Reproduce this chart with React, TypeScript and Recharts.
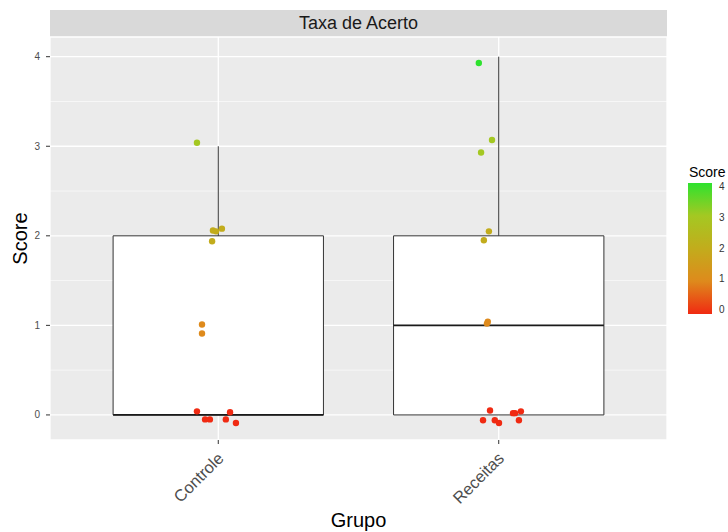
import React from "react";
import {
  ComposedChart,
  Scatter,
  XAxis,
  YAxis,
  CartesianGrid,
  ReferenceArea,
  ReferenceLine,
} from "recharts";

// groups and box summaries
const groups = ["Controle", "Receitas"];
const groupPos = [1, 2];
const boxLower = [0, 0];
const boxMedian = [0, 1];
const boxUpper = [2, 2];
const whiskerTop = [3, 4];

// jittered points (x in group units, y = score)
const pointsX = [
  0.924, 0.981, 0.992, 1.013, 0.978, 0.942, 0.942, 0.924, 0.953, 0.97, 1.042, 1.027, 1.063,
  1.929, 1.976, 1.937, 1.965, 1.947, 1.961, 1.958, 1.969, 1.944, 1.986, 2.001, 2.051, 2.058, 2.079, 2.072,
];
const pointsY = [
  3.04, 2.06, 2.05, 2.08, 1.94, 1.01, 0.91, 0.04, -0.05, -0.05, 0.03, -0.05, -0.09,
  3.93, 3.07, 2.93, 2.05, 1.95, 1.04, 1.02, 0.05, -0.06, -0.06, -0.09, 0.02, 0.02, 0.04, -0.06,
];
const pointsScore = [
  3, 2, 2, 2, 2, 1, 1, 0, 0, 0, 0, 0, 0,
  4, 3, 3, 2, 2, 1, 1, 0, 0, 0, 0, 0, 0, 0, 0,
];

const yTicks = [0, 1, 2, 3, 4];
const yMinor = [0.5, 1.5, 2.5, 3.5];
const legendTicks = [4, 3, 2, 1, 0];

// colour scale Score 0..4
const scaleColors = ["#f02a12", "#de8a1c", "#c2ac1c", "#a4c822", "#2ee22e"];

const points = pointsX.map((x, i) => ({ x, y: pointsY[i], fill: scaleColors[pointsScore[i]] }));

const FONT = '"Liberation Sans", Arial, Helvetica, sans-serif';
const BOX_HALF = 0.375;

const XTick = (props: any) => {
  const { x, y, payload } = props;
  const label = groups[groupPos.indexOf(payload.value)];
  return (
    <g transform={`translate(${x - 2},${y + 5})`}>
      <text
        x={0}
        y={0}
        dy="0.72em"
        textAnchor="end"
        transform="rotate(-45)"
        fontSize={16.5}
        fill="#4d4d4d"
        fontFamily={FONT}
      >
        {label}
      </text>
    </g>
  );
};

export default function App() {
  return (
    <div
      style={{
        position: "fixed",
        left: 0,
        top: 0,
        width: 728,
        height: 532,
        overflow: "hidden",
        background: "#fff",
        fontFamily: FONT,
      }}
    >
      {/* facet strip */}
      <div
        style={{
          position: "absolute",
          left: 50,
          top: 10,
          width: 617,
          height: 27,
          background: "#d9d9d9",
          color: "#1a1a1a",
          fontSize: 18,
          lineHeight: "27px",
          textAlign: "center",
        }}
      >
        Taxa de Acerto
      </div>

      <ComposedChart
        width={728}
        height={532}
        margin={{ top: 37, right: 61, bottom: 0, left: 0 }}
      >
        <CartesianGrid
          fill="#ebebeb"
          stroke="#fff"
          strokeWidth={0.6}
          vertical={false}
          horizontalValues={yMinor}
        />
        <CartesianGrid stroke="#fff" strokeWidth={1.3} />
        <XAxis
          type="number"
          dataKey="x"
          domain={[0.4, 2.6]}
          ticks={groupPos}
          allowDataOverflow
          axisLine={false}
          tickSize={4}
          tickLine={{ stroke: "#333" }}
          tick={<XTick />}
          height={92}
          label={{
            value: "Grupo",
            position: "insideBottom",
            offset: 5,
            fontSize: 20,
            fill: "#000",
            fontFamily: FONT,
          }}
        />
        <YAxis
          type="number"
          dataKey="y"
          domain={[-0.28, 4.22]}
          ticks={yTicks}
          allowDataOverflow
          axisLine={false}
          tickSize={4}
          tickMargin={6}
          tickLine={{ stroke: "#333" }}
          tick={{ fontSize: 10, fill: "#4d4d4d", fontFamily: FONT }}
          width={50}
          label={{
            value: "Score",
            angle: -90,
            position: "insideLeft",
            offset: 20,
            fontSize: 20,
            fill: "#000",
            fontFamily: FONT,
            style: { textAnchor: "middle" },
          }}
        />

        {groupPos.map((p, i) => (
          <ReferenceArea
            key={`box-${i}`}
            x1={p - BOX_HALF}
            x2={p + BOX_HALF}
            y1={boxLower[i]}
            y2={boxUpper[i]}
            fill="#fff"
            fillOpacity={1}
            stroke="#333"
            strokeWidth={1}
          />
        ))}
        {groupPos.map((p, i) => (
          <ReferenceLine
            key={`wh-${i}`}
            segment={[
              { x: p, y: boxUpper[i] },
              { x: p, y: whiskerTop[i] },
            ]}
            stroke="#333"
            strokeWidth={1}
          />
        ))}
        {groupPos.map((p, i) => (
          <ReferenceLine
            key={`med-${i}`}
            segment={[
              { x: p - BOX_HALF, y: boxMedian[i] },
              { x: p + BOX_HALF, y: boxMedian[i] },
            ]}
            stroke="#1a1a1a"
            strokeWidth={1.8}
          />
        ))}

        <Scatter
          data={points}
          isAnimationActive={false}
          shape={(props: any) => (
            <circle cx={props.cx} cy={props.cy} r={3.2} fill={props.payload.fill} />
          )}
        />
      </ComposedChart>

      {/* colour bar legend */}
      <div style={{ position: "absolute", left: 689, top: 164, fontSize: 14, color: "#000", whiteSpace: "nowrap" }}>
        Score
      </div>
      <div
        style={{
          position: "absolute",
          left: 688,
          top: 183,
          width: 24,
          height: 131,
          background: `linear-gradient(to top, ${scaleColors.join(", ")})`,
        }}
      />
      {legendTicks.map((t, i) => (
        <div
          key={t}
          style={{
            position: "absolute",
            left: 719,
            top: 181 + i * 30.8,
            fontSize: 10,
            color: "#333",
            lineHeight: "12px",
          }}
        >
          {t}
        </div>
      ))}
    </div>
  );
}
